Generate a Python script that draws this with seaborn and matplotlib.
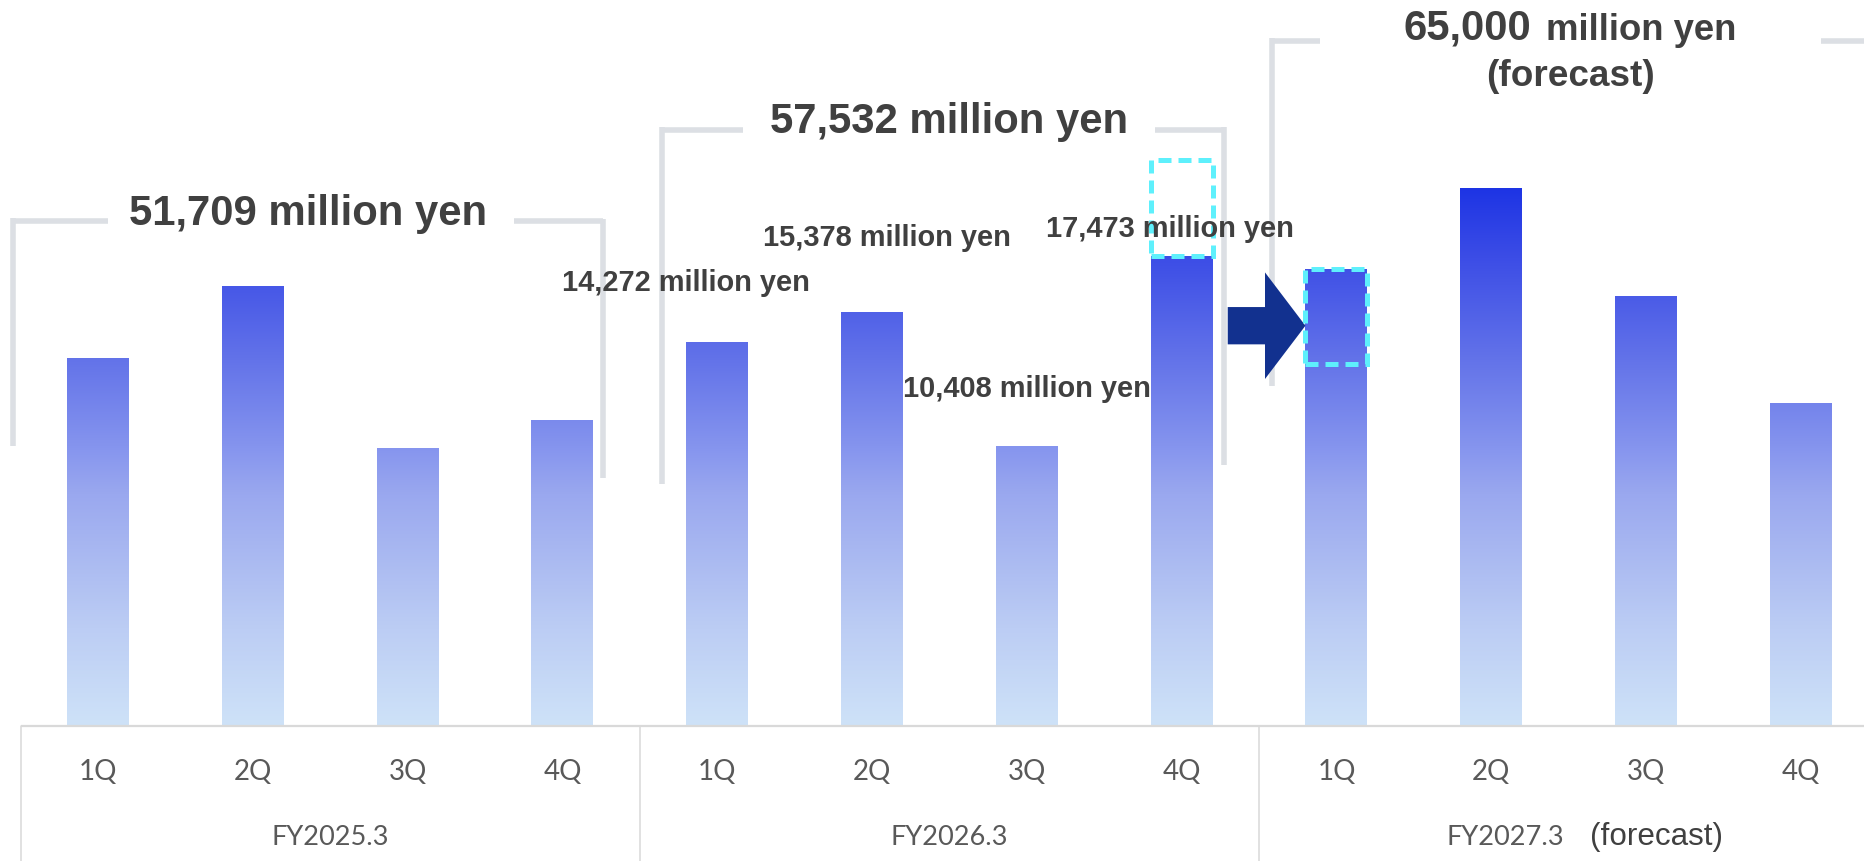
import numpy as np
import pandas as pd
import matplotlib
matplotlib.use("Agg")
import matplotlib.pyplot as plt
from matplotlib.colors import LinearSegmentedColormap
from matplotlib.patches import Rectangle, Polygon
import seaborn as sns

# ---- data (million yen) ----
fiscal_years = ["FY2025.3", "FY2026.3", "FY2027.3"]
quarters = ["1Q", "2Q", "3Q", "4Q"]
fy2025 = [13680, 16340, 10330, 11359]
fy2026 = [14272, 15378, 10408, 17473]
fy2027_forecast = [17000, 20000, 16000, 12000]
annual_totals = [51709, 57532, 65000]
shifted_amount = 3550  # portion carried from FY2026 4Q into FY2027 1Q

values = fy2025 + fy2026 + fy2027_forecast
keys = [f"{fy} {q}" for fy in fiscal_years for q in quarters]
df = pd.DataFrame({"key": keys, "value": values,
                   "quarter": quarters * 3,
                   "fy": [fy for fy in fiscal_years for _ in quarters]})

sns.set_theme(style="white")
plt.rcParams["font.family"] = ["Liberation Sans", "DejaVu Sans"]

W, H = 1865, 862
fig = plt.figure(figsize=(W / 100, H / 100), dpi=100)
ax = fig.add_axes([0, 0, 1, 1])

# pixel layout helpers (x: slot centre spacing, y: value per pixel)
X0, DX = 98.0, 154.8
BASE, VPP = 727.0, 37.17
def xd(px):
    return (px - X0) / DX
def yd(py):
    return (BASE - py) * VPP

XLIM = (xd(0), xd(W))
YLIM = (yd(H), yd(0))

sns.barplot(data=df, x="key", y="value", order=keys, width=0.4,
            color="#5566e8", ax=ax, errorbar=None)

# vertical gradient fill tied to the value scale
stops = [(0.00, "#cee2f8"), (0.18, "#bccdf4"), (0.43, "#9aa8ef"),
         (0.52, "#8594ee"), (0.68, "#6373e9"), (0.82, "#4657e7"),
         (0.87, "#3c4de6"), (1.00, "#1d34e4")]
cmap = LinearSegmentedColormap.from_list("bar_grad", stops)
grad_top = max(values)
grad = np.linspace(0, 1, 512).reshape(-1, 1)
for patch in list(ax.patches):
    x0 = patch.get_x()
    w = patch.get_width()
    patch.set_facecolor("none")
    patch.set_edgecolor("none")
    im = ax.imshow(grad, extent=(x0, x0 + w, 0, grad_top), origin="lower",
                   cmap=cmap, aspect="auto", interpolation="bicubic", zorder=2)
    im.set_clip_path(patch)

ax.set_xlim(*XLIM)
ax.set_ylim(*YLIM)
ax.set_axis_off()

# ---- category axis ----
axis_grey = "#d9d9d9"
ax.plot([-0.5, XLIM[1]], [0, 0], color=axis_grey, lw=1.6, zorder=3,
        solid_capstyle="butt")
for sx in [-0.5, 3.5, 7.5]:
    ax.plot([sx, sx], [0, YLIM[0]], color=axis_grey, lw=1.1, zorder=3)

tick_font = dict(family=["Lato", "DejaVu Sans"], color="#595959")
for i, q in enumerate(df["quarter"]):
    ax.text(i, yd(780), q, ha="center", va="baseline", fontsize=20, **tick_font)
ax.text(1.5, yd(845), fiscal_years[0], ha="center", va="baseline", fontsize=19.5, **tick_font)
ax.text(5.5, yd(845), fiscal_years[1], ha="center", va="baseline", fontsize=19.5, **tick_font)
ax.text(xd(1564), yd(845), fiscal_years[2], ha="right", va="baseline", fontsize=19.5, **tick_font)
ax.text(xd(1590), yd(845), "(forecast)", ha="left", va="baseline", fontsize=22.6,
        color="#404040")

# ---- annual brackets ----
bracket_grey = "#dcdfe4"
bracket_segments = [
    [(13, 219), (13, 447)], [(13, 222), (108, 222)],
    [(514, 222), (603.5, 222)], [(603.5, 220), (603.5, 479)],
    [(662, 128), (662, 485)], [(662, 131), (743, 131)],
    [(1155.5, 131), (1224.5, 131)], [(1224.5, 128), (1224.5, 466)],
    [(1272, 39), (1272, 387)], [(1272, 41.5), (1320, 41.5)],
    [(1821, 41.5), (1865, 41.5)],
]
for (ax_, ay_), (bx_, by_) in bracket_segments:
    ax.plot([xd(ax_), xd(bx_)], [yd(ay_), yd(by_)], color=bracket_grey,
            lw=4.0, solid_capstyle="butt", zorder=1)

dark = "#404040"
ax.text(xd(308.5), yd(225), f"{annual_totals[0]:,} million yen", ha="center",
        va="baseline", fontsize=30.2, fontweight="bold", color=dark)
ax.text(xd(949), yd(133), f"{annual_totals[1]:,} million yen", ha="center",
        va="baseline", fontsize=30.2, fontweight="bold", color=dark)
ax.text(xd(1404), yd(40), f"{annual_totals[2]:,}", ha="left", va="baseline",
        fontsize=30.2, fontweight="bold", color=dark)
ax.text(xd(1546), yd(40), "million yen", ha="left", va="baseline",
        fontsize=26.3, fontweight="bold", color=dark)
ax.text(xd(1571), yd(86), "(forecast)", ha="center", va="baseline",
        fontsize=26.6, fontweight="bold", color=dark)

# ---- FY2026 quarterly value labels ----
label_pos = [(562, 291, "left"), (762.6, 246, "left"),
             (1151, 397, "right"), (1046, 237, "left")]
for v, (lx, ly, ha) in zip(fy2026, label_pos):
    ax.text(xd(lx), yd(ly), f"{v:,} million yen", ha=ha, va="baseline",
            fontsize=20.9, fontweight="bold", color=dark, zorder=6)

# ---- shifted amount boxes and arrow ----
box_style = dict(fill=False, edgecolor="#5ef0fc", lw=3.6,
                 linestyle=(0, (2.6, 1.4)), zorder=5)
i_from, i_to = 7, 8
ax.add_patch(Rectangle((i_from - 0.2, values[i_from]), 0.4, shifted_amount, **box_style))
ax.add_patch(Rectangle((i_to - 0.2, values[i_to] - shifted_amount), 0.4,
                       shifted_amount, **box_style))

ay = yd(326.7)
shaft_h, head_h = 18.65 * VPP, 53.3 * VPP
tail, neck, tip = i_from + 0.298, xd(1265), i_to - 0.2
arrow = Polygon([(tail, ay - shaft_h), (neck, ay - shaft_h), (neck, ay - head_h),
                 (tip, ay), (neck, ay + head_h), (neck, ay + shaft_h),
                 (tail, ay + shaft_h)], closed=True, facecolor="#12318f",
                edgecolor="none", zorder=4)
ax.add_patch(arrow)

fig.savefig("out.png", dpi=100, facecolor="white")
